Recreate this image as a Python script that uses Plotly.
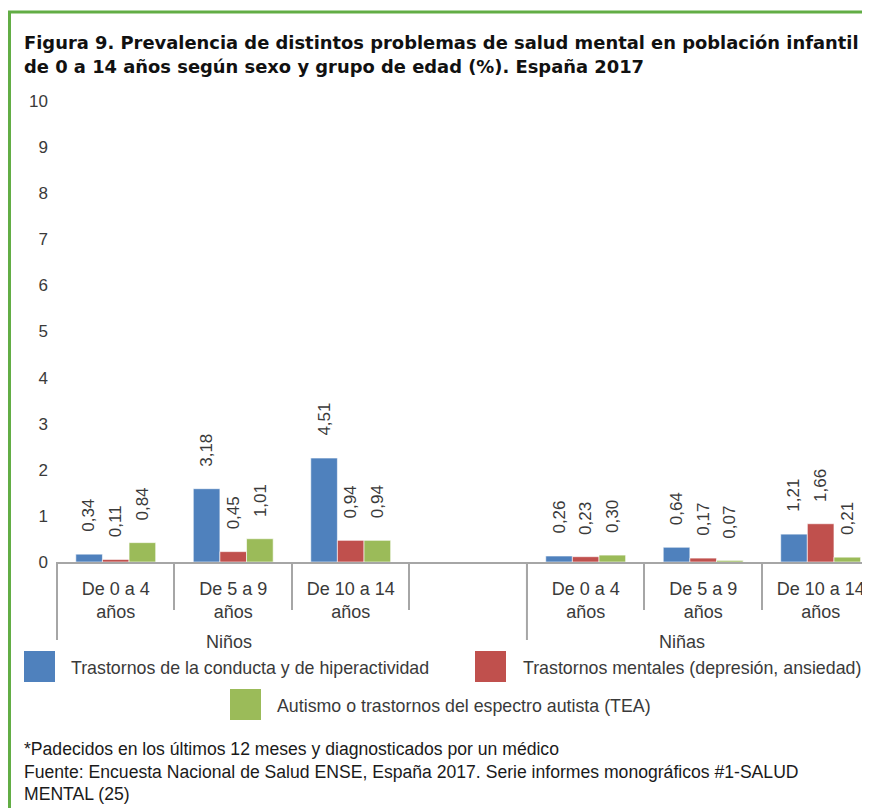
"""Prevalencia de problemas de salud mental en población infantil (ENSE 2017)."""

import plotly.graph_objects as go

# --- data -------------------------------------------------------------
GROUPS = ["Niños", "Niñas"]
AGE_LABELS = ["De 0 a 4<br>años", "De 5 a 9<br>años", "De 10 a 14<br>años"]

SERIES_NAMES = [
    "Trastornos de la conducta y de hiperactividad",
    "Trastornos mentales (depresión, ansiedad)",
    "Autismo o trastornos del espectro autista (TEA)",
]
# values in order: Niños 0-4, 5-9, 10-14, Niñas 0-4, 5-9, 10-14
CONDUCTA = [0.34, 3.18, 4.51, 0.26, 0.64, 1.21]
MENTALES = [0.11, 0.45, 0.94, 0.23, 0.17, 1.66]
AUTISMO = [0.84, 1.01, 0.94, 0.30, 0.07, 0.21]

Y_TICKS = list(range(0, 11))

TITLE_LINES = [
    "Figura 9. Prevalencia de distintos problemas de salud mental en población infantil",
    "de 0 a 14 años según sexo y grupo de edad (%). España 2017",
]
NOTES = [
    "*Padecidos en los últimos 12 meses y diagnosticados por un médico",
    "Fuente: Encuesta Nacional de Salud ENSE, España 2017. Serie informes monográficos #1-SALUD",
    "MENTAL (25)",
]

COLORS = ["#4f81bd", "#c0504d", "#9bbb59"]
TEXT = "#3a3a3a"
AXIS = "#a6a6a6"
BORDER = "#62ad45"
FONT = "Liberation Sans, Arial, sans-serif"

# --- layout geometry (page has an 8px body margin) ----------------------
OFF = 8
W, H = 862, 800
ML, MR, MT, MB = 49, 0, 93, 246
PLOT_W, PLOT_H = W - ML - MR, H - MT - MB
X_RANGE = [-0.5, 6.42]
BARGAP = 0.32


def px_x(px):
    """Page pixel -> paper x."""
    return (px - OFF - ML) / PLOT_W


def px_y(py):
    """Page pixel -> paper y."""
    return (H - MB - (py - OFF)) / PLOT_H


# category keys: three per group with an empty slot in between
cat_keys = [f"{GROUPS[0]}|{a}" for a in AGE_LABELS] + ["gap"] + [f"{GROUPS[1]}|{a}" for a in AGE_LABELS]
tick_text = AGE_LABELS + [""] + AGE_LABELS


def with_gap(values):
    return values[:3] + [None] + values[3:]


fig = go.Figure()
series = [CONDUCTA, MENTALES, AUTISMO]
for name, vals, color in zip(SERIES_NAMES, series, COLORS):
    fig.add_trace(
        go.Bar(
            x=cat_keys,
            y=with_gap(vals),
            name=name,
            marker={"color": color, "line": {"color": "rgba(255,255,255,0.6)", "width": 1}},
            showlegend=False,
            hoverinfo="skip",
        )
    )

# value labels, rotated, above each bar
cat_px = PLOT_W / (X_RANGE[1] - X_RANGE[0])
bar_px = cat_px * (1 - BARGAP) / len(series)
annotations = []
for j, vals in enumerate(series):
    for key, v in zip(cat_keys, with_gap(vals)):
        if v is None:
            continue
        annotations.append(
            dict(
                x=key, y=v, xref="x", yref="y",
                text=f"{v:.2f}".replace(".", ","),
                textangle=-90, showarrow=False,
                xanchor="center", yanchor="bottom",
                xshift=(j - 1) * bar_px, yshift=20,
                font={"size": 17, "color": TEXT},
            )
        )

# title, one annotation per line
for line, py in zip(TITLE_LINES, [42, 66]):
    annotations.append(dict(x=px_x(22), y=px_y(py), xref="paper", yref="paper", text=f"<b>{line}</b>",
                            showarrow=False, xanchor="left", yanchor="middle",
                            font={"family": "DejaVu Sans, sans-serif", "size": 17.9, "color": "#111111"}))

# group labels
for label, px in zip(GROUPS, [229, 682]):
    annotations.append(dict(x=px_x(px), y=px_y(642), xref="paper", yref="paper", text=label,
                            showarrow=False, xanchor="center", yanchor="middle",
                            font={"size": 18, "color": TEXT}))

# legend (manual, Excel style)
legend_items = [(24, 651, 72), (475, 651, 524), (230, 689, 278)]
shapes = []
for (sx, sy, tx), name, color in zip(legend_items, SERIES_NAMES, COLORS):
    shapes.append(dict(type="rect", xref="paper", yref="paper",
                       x0=px_x(sx), x1=px_x(sx + 31), y0=px_y(sy), y1=px_y(sy + 31),
                       fillcolor=color, line={"width": 0}))
    annotations.append(dict(x=px_x(tx - 3), y=px_y(sy + 17), xref="paper", yref="paper", text=name,
                            showarrow=False, xanchor="left", yanchor="middle",
                            font={"size": 17.8, "color": TEXT}))

# notes
for note, py in zip(NOTES, [749, 772, 794]):
    annotations.append(dict(x=px_x(22), y=px_y(py), xref="paper", yref="paper", text=note,
                            showarrow=False, xanchor="left", yanchor="middle",
                            font={"size": 17.6, "color": "#1a1a1a"}))

# long dividers between the two groups
for pos in [-0.5, 3.5]:
    xp = (pos - X_RANGE[0]) / (X_RANGE[1] - X_RANGE[0])
    shapes.append(dict(type="line", xref="paper", yref="paper", x0=xp, x1=xp,
                       y0=0, y1=px_y(640), line={"color": AXIS, "width": 2}))

# green frame (top and left)
shapes.append(dict(type="line", xref="paper", yref="paper", x0=px_x(8), x1=px_x(870),
                   y0=px_y(12), y1=px_y(12), line={"color": BORDER, "width": 3}))
shapes.append(dict(type="line", xref="paper", yref="paper", x0=px_x(9.5), x1=px_x(9.5),
                   y0=px_y(11), y1=px_y(830), line={"color": BORDER, "width": 3}))

fig.update_layout(
    width=W, height=H,
    margin={"l": ML, "r": MR, "t": MT, "b": MB},
    paper_bgcolor="white", plot_bgcolor="white",
    font={"family": FONT, "size": 17, "color": TEXT},
    barmode="group", bargap=BARGAP, bargroupgap=0,
    annotations=annotations,
    shapes=shapes,
)
fig.update_xaxes(
    type="category", categoryorder="array", categoryarray=cat_keys,
    tickvals=cat_keys, ticktext=tick_text, range=X_RANGE,
    showline=True, linecolor=AXIS, linewidth=2,
    ticks="outside", tickson="boundaries", ticklen=46, tickwidth=2, tickcolor=AXIS,
    ticklabelstandoff=9, showgrid=False, zeroline=False,
    tickfont={"size": 18, "color": TEXT},
)
fig.update_yaxes(
    range=[0, 20], tickvals=[2 * t for t in Y_TICKS], ticktext=[str(t) for t in Y_TICKS],
    showgrid=False, zeroline=False, showline=False, ticks="",
    ticklabelstandoff=8, tickfont={"size": 17, "color": TEXT},
)

fig.write_html("out.html")
